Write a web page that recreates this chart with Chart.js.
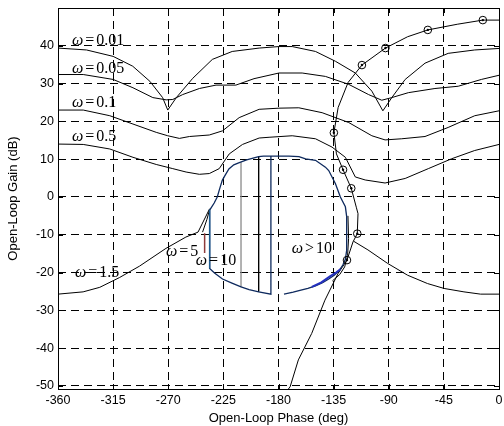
<!DOCTYPE html>
<html>
<head>
<meta charset="utf-8">
<script src="https://cdn.jsdelivr.net/npm/chart.js@4.4.1/dist/chart.umd.min.js"></script>
<style>
    html, body { margin: 0; padding: 0; background: #ffffff; }
    #wrap { width: 504px; height: 426px; }
</style>
</head>
<body>
<div id="wrap"><canvas id="chartNichols" width="504" height="426"></canvas></div>
<script>

// =====================================================
// Datos
// =====================================================

const phaseTicks = [-360, -315, -270, -225, -180, -135, -90, -45, 0];
const gainTicks = [-50, -40, -30, -20, -10, 0, 10, 20, 30, 40];

// cota w = 0.01
const b001Phase = [-360, -336.7, -315, -299, -285, -274.6, -270.4, -263.4, -250, -234, -217.8, -195.8, -179.6, -168.8, -149.8, -133.5, -117.3, -103.8, -94.8, -87.5, -76.6, -60.4, -41.5, -19.8, 0];
const b001Gain = [39.4, 38.9, 37.2, 34.6, 30.6, 26.3, 23, 26.3, 31.4, 36.4, 38.5, 39.4, 39.8, 39.8, 38.5, 35.9, 32.8, 28, 22.8, 26.3, 31.1, 35.4, 38, 38.9, 39.3];

// cota w = 0.05
const b005Phase = [-360, -339.4, -315, -298.8, -282.6, -271.7, -266.3, -258.2, -244.6, -231, -214.8, -200, -179.6, -160.7, -141.7, -122.7, -106.5, -95.7, -87.5, -74, -52.3, -33.3, -14.4, 0];
const b005Gain = [32.4, 32.4, 31.1, 28.9, 26.3, 25.7, 25.8, 27.1, 28.7, 29.6, 29.6, 31.3, 32.8, 32.8, 31.9, 29.8, 27.1, 25.6, 26.3, 27.6, 28.7, 29.3, 31.1, 32.2];

// cota w = 0.1
const b01Phase = [-360, -339.4, -317.7, -298.8, -279.8, -270.4, -260.9, -252.7, -236.5, -225.7, -212.1, -195.8, -179.6, -163.4, -144.4, -122.7, -103.8, -93, -79.4, -60.4, -41.5, -19.8, 0];
const b01Gain = [23, 23, 21.5, 19.3, 17.1, 16.2, 15.5, 16, 16.4, 17.5, 21, 23.2, 23.5, 23.6, 22.3, 19.7, 16.2, 15.1, 15.4, 16, 18.4, 21.5, 22.8];

// cota w = 0.5
const b05Phase = [-360, -339.4, -317.7, -298.8, -279.8, -266.3, -255.4, -244.6, -236.5, -228.4, -220.2, -209.4, -195.8, -187.7, -168.8, -149.8, -136.3, -125.4, -117.3, -109.2, -93, -76.6, -57.7, -38.8, -19.8, 0];
const b05Gain = [14, 13.9, 12.7, 10.5, 8.6, 7.5, 6.6, 6, 6.2, 7.5, 11.4, 13.9, 15.6, 15.8, 16.2, 15.4, 13.2, 10.5, 5.3, 4.5, 3.7, 4.9, 7.5, 10.1, 12.3, 13.9];

// cota w = 1.5 (dos ramas)
const b15LeftPhase = [-360, -339.5, -325.9, -309.7, -293.5, -271.9, -255.6, -245.7, -236.2];
const b15LeftGain = [-25.7, -25.1, -23.9, -21.3, -18.3, -13.6, -10.6, -9.3, -3.1];
const b15RightPhase = [-118.7, -107, -90.8, -74.6, -58.4, -44.8, -28.6, -15.1, 0];
const b15RightGain = [-11.7, -14, -17.6, -20.7, -22.9, -24.2, -25.1, -25.7, -25.7];

// cota cerrada w = 5, 10, > 10
const closedPhase = [-175.5, -168, -163.3, -156, -149.8, -144, -139, -134.5, -130.8, -127.5, -125.4, -124.3, -124.1, -124.6, -125.4, -129.5, -133.5, -139, -141.7, -149.8, -157.9, -163.3, -171.5, -186.2, -192.2, -196.2, -206, -212, -216.5, -220.5, -223.5, -225.9, -228, -230, -232.5, -235.4, -236.2, -236.2, -232, -225.7, -218, -210.6, -204, -196.2, -186.2, -186.2];
const closedGain = [-25.7, -25.2, -24.8, -24.2, -23.5, -22.7, -21.7, -20.7, -19.6, -18, -16.5, -14, -11.3, -5.2, -2.6, 0, 3.5, 7, 7.9, 9.7, 10.1, 10.7, 10.8, 10.8, 10.8, 10.7, 9.8, 9.1, 8.5, 7.4, 5.8, 4.4, 2.2, 0, -1.6, -3.1, -3.5, -18.9, -20.2, -21.7, -22.8, -23.8, -24.5, -25.1, -25.7, 10.8];

const grayPhase = [-210.6, -210.6];
const grayGain = [9.2, -23.8];
const blackPhase = [-196.2, -196.2];
const blackGain = [10.7, -25.1];
const bluePhase = [-236.2, -236.2];
const blueGain = [-3.3, -18.9];
const redPhase = [-240.3, -240.3];
const redGain = [-9.6, -14.8];
const arcPhase = [-152.8, -145, -138, -133, -129.5];
const arcGain = [-23.8, -22.6, -21, -20, -19.1];
const innerPhase = [-123.3, -122.8, -123.6, -126, -130, -136];
const innerGain = [-5, -11, -15.5, -18.5, -20.5, -22.2];
const tipPhase = [-242, -238.5, -236.2];
const tipGain = [-9.3, -6, -3.3];

// lazo nominal
const loopPhase = [0, -13.2, -34.1, -58.1, -74.6, -92.7, -111.9, -123.2, -131.3, -134.8, -132.7, -127.3, -120.6, -116.5, -115.1, -115.7, -119.2, -124.1, -131.3, -142.1, -152.9, -163.8, -170.5, -171.9];
const loopGain = [46.8, 46.8, 45.7, 44.2, 42.4, 39.4, 34.9, 30.3, 23.7, 17.0, 11.4, 7.2, 2.3, -2.7, -4.4, -9.7, -11.9, -16.7, -20.2, -27.3, -36.1, -43.1, -50.2, -50.8];
const markPhase = [-13.2, -58.1, -92.7, -111.9, -134.8, -127.3, -120.6, -115.7, -124.1];
const markGain = [46.8, 44.2, 39.4, 34.9, 17.0, 7.2, 2.3, -9.7, -16.7];


// =====================================================
// Utilidades
// =====================================================

function puntos(xs, ys) {
    return xs.map((x, i) => ({ x: x, y: ys[i] }));
}

function linea(xs, ys, color, ancho) {
    return {
        data: puntos(xs, ys),
        showLine: true,
        borderColor: color,
        borderWidth: ancho || 1,
        pointRadius: 0,
        fill: false
    };
}

// etiquetas de las cotas (posición en unidades de los ejes)
const notas = [
    { op: "=", val: "0.01", phase: -348.6, gain: 41.3 },
    { op: "=", val: "0.05", phase: -348.6, gain: 33.9 },
    { op: "=", val: "0.1", phase: -348.6, gain: 24.9 },
    { op: "=", val: "0.5", phase: -348.6, gain: 15.8 },
    { op: "=", val: "1.5", phase: -346.2, gain: -20.0 },
    { op: "=", val: "5", phase: -271.9, gain: -14.5 },
    { op: "=", val: "10", phase: -247.5, gain: -16.8 },
    { op: ">", val: "10", phase: -169.2, gain: -13.6 }
];

const etiquetas = {
    id: "etiquetas",
    afterDatasetsDraw(chart) {
        const { ctx, scales } = chart;
        ctx.save();
        ctx.fillStyle = "#000";
        ctx.textBaseline = "middle";
        ctx.textAlign = "left";
        notas.forEach(n => {
            let x = scales.x.getPixelForValue(n.phase);
            const y = scales.y.getPixelForValue(n.gain);
            ctx.font = "italic 16px 'Liberation Serif', serif";
            ctx.fillText("\u03c9", x, y);
            x += ctx.measureText("\u03c9").width + 2;
            ctx.font = "16px 'Liberation Serif', serif";
            ctx.fillText(n.op, x, y);
            x += ctx.measureText(n.op).width + 2;
            ctx.fillText(n.val, x, y);
        });
        ctx.restore();
    }
};

// marco completo y marcas hacia dentro
const marco = {
    id: "marco",
    afterDraw(chart) {
        const { ctx, chartArea: a, scales } = chart;
        const len = 5;
        ctx.save();
        ctx.strokeStyle = "#000";
        ctx.lineWidth = 1;
        ctx.beginPath();
        phaseTicks.forEach(v => {
            const px = Math.round(scales.x.getPixelForValue(v)) + 0.5;
            ctx.moveTo(px, a.bottom); ctx.lineTo(px, a.bottom - len);
            ctx.moveTo(px, a.top); ctx.lineTo(px, a.top + len);
        });
        gainTicks.forEach(v => {
            const py = Math.round(scales.y.getPixelForValue(v)) + 0.5;
            ctx.moveTo(a.left, py); ctx.lineTo(a.left + len, py);
            ctx.moveTo(a.right, py); ctx.lineTo(a.right - len, py);
        });
        ctx.stroke();
        ctx.strokeRect(Math.round(a.left) + 0.5, Math.round(a.top) + 0.5,
            Math.round(a.right - a.left), Math.round(a.bottom - a.top));
        ctx.restore();
    }
};


// =====================================================
// Gráfico
// =====================================================

const fuenteEjes = { family: "'Liberation Sans', Arial, sans-serif", size: 12.5 };
const fuenteTitulo = { family: "'Liberation Sans', Arial, sans-serif", size: 13 };

const marcas = {
    data: puntos(markPhase, markGain),
    showLine: false,
    pointStyle: "circle",
    pointRadius: 3.8,
    pointBorderWidth: 1,
    pointBorderColor: "#000",
    pointBackgroundColor: "rgba(0,0,0,0)"
};

const centros = {
    data: puntos(markPhase, markGain),
    showLine: false,
    pointRadius: 1.2,
    pointBorderWidth: 0,
    pointBackgroundColor: "#000"
};

new Chart(document.getElementById("chartNichols"), {
    type: "scatter",
    data: {
        datasets: [
            marcas,
            centros,
            linea(arcPhase, arcGain, "#2430c0", 2),
            linea(redPhase, redGain, "#8e3a3a", 1.5),
            linea(bluePhase, blueGain, "#1d5b8f", 1.5),
            linea(closedPhase, closedGain, "#0e2a5e", 1.3),
            linea(grayPhase, grayGain, "#8a8a8a", 1.3),
            linea(blackPhase, blackGain, "#000", 1),
            linea(innerPhase, innerGain, "#000", 1),
            linea(tipPhase, tipGain, "#000", 1),
            linea(loopPhase, loopGain, "#000", 1),
            linea(b001Phase, b001Gain, "#000", 1),
            linea(b005Phase, b005Gain, "#000", 1),
            linea(b01Phase, b01Gain, "#000", 1),
            linea(b05Phase, b05Gain, "#000", 1),
            linea(b15LeftPhase, b15LeftGain, "#000", 1),
            linea(b15RightPhase, b15RightGain, "#000", 1)
        ]
    },
    options: {
        responsive: false,
        animation: false,
        layout: { padding: { top: 8, right: 2, left: 0, bottom: 0 } },
        plugins: {
            legend: { display: false },
            tooltip: { enabled: false }
        },
        elements: { line: { tension: 0 } },
        scales: {
            x: {
                type: "linear",
                min: -360,
                max: 0,
                afterBuildTicks: s => { s.ticks = phaseTicks.map(v => ({ value: v })); },
                afterFit: s => { s.height = 37; s.paddingLeft = 0; s.paddingRight = 0; },
                ticks: { color: "#000", font: fuenteEjes, padding: 4, maxRotation: 0 },
                grid: { color: "#000", lineWidth: 1, drawTicks: false },
                border: { display: false, dash: [8, 5] },
                title: {
                    display: true,
                    text: "Open-Loop Phase (deg)",
                    color: "#000",
                    font: fuenteTitulo,
                    padding: { top: 0, bottom: 0 }
                }
            },
            y: {
                type: "linear",
                min: -50.8,
                max: 50,
                afterBuildTicks: s => { s.ticks = gainTicks.map(v => ({ value: v })); },
                afterFit: s => { s.width = 58; s.paddingTop = 0; s.paddingBottom = 0; },
                ticks: { color: "#000", font: fuenteEjes, padding: 4 },
                grid: { color: "#000", lineWidth: 1, drawTicks: false },
                border: { display: false, dash: [8, 5] },
                title: {
                    display: true,
                    text: "Open-Loop Gain (dB)",
                    color: "#000",
                    font: fuenteTitulo,
                    padding: { top: 6, bottom: 0 }
                }
            }
        }
    },
    plugins: [etiquetas, marco]
});

</script>
</body>
</html>
